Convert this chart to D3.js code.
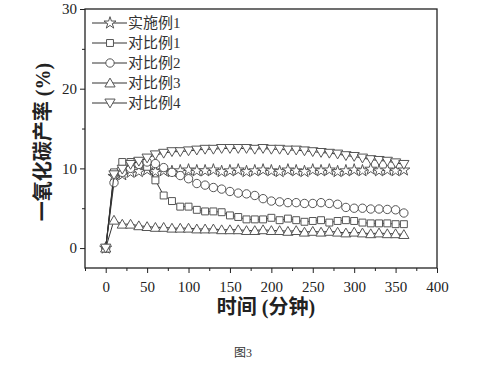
<!DOCTYPE html>
<html><head><meta charset="utf-8">
<script src="https://cdn.jsdelivr.net/npm/d3@7"></script>
<style>body{margin:0;background:#fff}</style>
</head><body>
<svg id="c" width="479" height="367"></svg>
<script>
const times = [0,10,20,30,40,50,60,70,80,90,100,110,120,130,140,150,160,170,180,190,200,210,220,230,240,250,260,270,280,290,300,310,320,330,340,350,360];
const seriesNames = ["实施例1","对比例1","对比例2","对比例3","对比例4"];
const s1 = [0,9.0,9.2,9.5,9.6,9.8,9.6,9.7,9.6,9.7,9.8,9.7,9.7,9.8,9.6,9.7,9.8,9.6,9.7,9.8,9.7,9.6,9.8,9.7,9.6,9.8,9.7,9.8,9.6,9.7,9.8,9.7,9.9,9.7,9.8,9.7,9.8];
const s2 = [0,9.5,10.8,10.8,10.5,10.2,8.5,6.6,5.9,5.2,5.2,4.8,4.6,4.6,4.5,4.1,3.9,3.6,3.6,3.6,3.8,3.5,3.7,3.5,3.3,3.4,3.5,3.2,3.4,3.5,3.4,3.2,3.1,3.1,3.1,3.0,3.0];
const s3 = [0,8.2,9.5,10.0,10.5,10.8,10.6,10.1,9.5,9.1,8.7,8.1,7.9,7.6,7.4,7.1,6.9,6.8,6.6,6.2,5.9,5.8,5.7,5.7,5.6,5.6,5.7,5.6,5.5,5.1,5.0,5.0,4.9,4.9,4.85,4.8,4.4];
const s4 = [0,3.5,3.0,3.0,2.8,2.7,2.6,2.6,2.5,2.5,2.5,2.4,2.4,2.4,2.3,2.3,2.3,2.2,2.2,2.3,2.2,2.2,2.1,2.2,2.0,2.1,2.0,2.1,2.0,1.9,2.0,1.9,1.8,1.9,1.8,1.8,1.7];
const s5 = [0,9.2,9.9,10.5,10.9,11.3,11.7,11.9,12.1,12.1,12.2,12.3,12.4,12.4,12.5,12.5,12.5,12.5,12.4,12.5,12.4,12.4,12.3,12.3,12.2,12.1,12.0,11.9,11.8,11.6,11.5,11.3,11.1,11.0,10.9,10.7,10.5];
const xTicks = [0,50,100,150,200,250,300,350,400];
const yTicks = [0,10,20,30];
const xLabel = "时间 (分钟)";
const yLabel = "一氧化碳产率 (%)";
const caption = "图3";

const allSeries = [s1,s2,s3,s4,s5];
const svg = d3.select("#c");
const L=85,R=437,T=9,B=268;
const x = d3.scaleLinear().domain([-25,400]).range([L,R]);
const y = d3.scaleLinear().domain([-2.5,30]).range([B,T]);
const font = "'Liberation Serif','Times New Roman','DejaVu Serif','Noto Sans CJK SC',serif";
const lineCol="#333", mkCol="#555";

svg.append("rect").attr("x",L).attr("y",T).attr("width",R-L).attr("height",B-T)
  .attr("fill","none").attr("stroke","#222").attr("stroke-width",1.3);

const xa = svg.append("g").attr("transform",`translate(0,${B})`)
  .call(d3.axisBottom(x).tickValues(xTicks).tickSize(5).tickFormat(d3.format("d")));
xa.attr("font-family",null).attr("font-size",null);
xa.select(".domain").remove();
xa.selectAll("line").attr("stroke","#222");
xa.selectAll("text").style("font-family",font).style("font-size","15px").attr("fill","#222").attr("dy","1.05em");
const xm = svg.append("g").attr("transform",`translate(0,${B})`)
  .call(d3.axisBottom(x).tickValues(d3.range(-25,400,50)).tickSize(3).tickFormat(""));
xm.select(".domain").remove(); xm.selectAll("line").attr("stroke","#222");

const ya = svg.append("g").attr("transform",`translate(${L},0)`)
  .call(d3.axisLeft(y).tickValues(yTicks).tickSize(5).tickFormat(d3.format("d")));
ya.attr("font-family",null).attr("font-size",null);
ya.select(".domain").remove();
ya.selectAll("line").attr("stroke","#222");
ya.selectAll("text").style("font-family",font).style("font-size","15px").attr("fill","#222");
const ym = svg.append("g").attr("transform",`translate(${L},0)`)
  .call(d3.axisLeft(y).tickValues([5,15,25]).tickSize(3).tickFormat(""));
ym.select(".domain").remove(); ym.selectAll("line").attr("stroke","#222");

const symTypes = [d3.symbolStar, d3.symbolSquare, d3.symbolCircle, d3.symbolTriangle, d3.symbolTriangle];
const symSizes = [45,48,55,45,45];
const symRot = [0,0,0,0,180];
function mk(g,i,cx,cy){
  g.append("path").attr("d",d3.symbol().type(symTypes[i]).size(symSizes[i])())
   .attr("transform",`translate(${cx},${cy}) rotate(${symRot[i]})`+(i>=3?` translate(0,1)`:""))
   .attr("fill","#fff").attr("stroke",mkCol).attr("stroke-width",1);
}
const line = d3.line().x((d,i)=>x(times[i])).y(d=>y(d));
allSeries.forEach((s,i)=>{
  const g = svg.append("g");
  g.append("path").datum(s).attr("d",line).attr("fill","none").attr("stroke",lineCol).attr("stroke-width",1);
  s.forEach((v,j)=>mk(g,i,x(times[j]),y(v)));
});

const legY=[23,43,63,83,103];
seriesNames.forEach((n,i)=>{
  const g=svg.append("g");
  g.append("line").attr("x1",92).attr("x2",127).attr("y1",legY[i]).attr("y2",legY[i]).attr("stroke",lineCol);
  mk(g,i,110,legY[i]);
  g.append("text").attr("x",128).attr("y",legY[i]).attr("dy","0.36em").style("font-family",font)
   .style("font-size","15px").attr("fill","#333").text(n);
});

svg.append("text").attr("x",266).attr("y",314).attr("text-anchor","middle").style("font-family",font)
  .style("font-size","20px").attr("font-weight","bold").attr("fill","#222").text(xLabel);
svg.append("text").attr("transform","translate(50,142) rotate(-90)").attr("text-anchor","middle")
  .style("font-family",font).style("font-size","20px").attr("font-weight","bold").attr("fill","#222").text(yLabel);
svg.append("text").attr("x",243).attr("y",357).attr("text-anchor","middle").style("font-family",font)
  .style("font-size","12px").attr("fill","#333").text(caption);
</script>
</body></html>
